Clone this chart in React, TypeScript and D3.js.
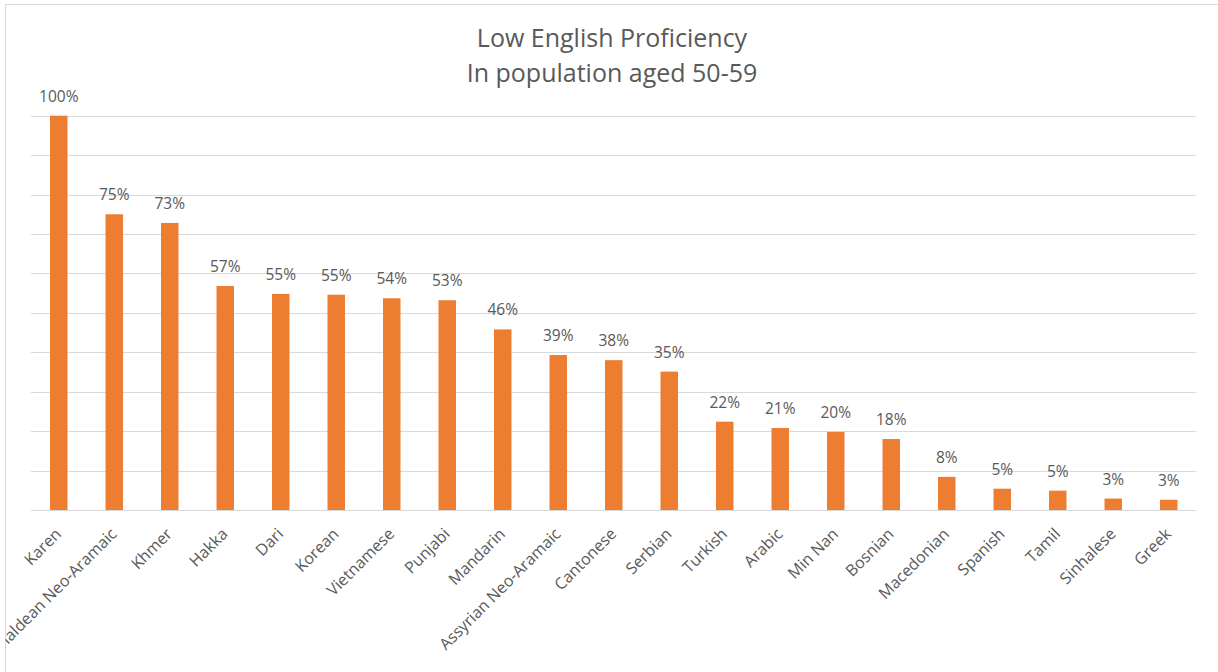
import React from "react";
import * as d3 from "d3";

const categories = [
  "Karen", "Chaldean Neo-Aramaic", "Khmer", "Hakka", "Dari", "Korean", "Vietnamese",
  "Punjabi", "Mandarin", "Assyrian Neo-Aramaic", "Cantonese", "Serbian", "Turkish",
  "Arabic", "Min Nan", "Bosnian", "Macedonian", "Spanish", "Tamil", "Sinhalese", "Greek",
];
const values = [
  1.0, 0.75, 0.728, 0.568, 0.548, 0.546, 0.537, 0.532, 0.458, 0.393, 0.38, 0.351,
  0.224, 0.208, 0.198, 0.18, 0.084, 0.054, 0.049, 0.029, 0.026,
];
const gridTicks = [0, 0.1, 0.2, 0.3, 0.4, 0.5, 0.6, 0.7, 0.8, 0.9, 1.0];
const titleLines = ["Low English Proficiency", "In population aged 50-59"];

const W = 1218;
const H = 672;
const FONT = "'Open Sans', sans-serif";
const TEXT = "#595959";
const GRID = "#d9d9d9";
const BAR = "#ED7D31";

export default function App() {
  const x = d3
    .scaleBand<string>()
    .domain(categories)
    .range([31, 1196.5])
    .paddingInner(0.685)
    .paddingOuter(0.3425);
  const y = d3.scaleLinear().domain([0, 1]).range([510, 115.7]);
  const fmt = d3.format(".0%");

  return (
    <svg
      width={W}
      height={H}
      style={{ position: "absolute", left: 0, top: 0, background: "#fff" }}
      fontFamily={FONT}
    >
      <defs>
        <clipPath id="clip">
          <rect x={5.5} y={4.5} width={W} height={H} />
        </clipPath>
      </defs>
      <rect x={0} y={0} width={W} height={H} fill="#fff" />
      <rect x={5.5} y={4.5} width={W + 20} height={H + 20} fill="#fff" stroke={GRID} strokeWidth={1} />
      <g clipPath="url(#clip)">
        {titleLines.map((t, i) => (
          <text key={t} x={612} y={46.7 + i * 35} textAnchor="middle" fontSize={25} fill={TEXT}>
            {t}
          </text>
        ))}
        {gridTicks.map((t) => (
          <line
            key={t}
            x1={31}
            x2={1196.5}
            y1={Math.round(y(t)) + 0.5}
            y2={Math.round(y(t)) + 0.5}
            stroke={GRID}
            strokeWidth={1.2}
          />
        ))}
        {categories.map((c, i) => (
          <g key={c}>
            <rect
              x={x(c)!}
              y={y(values[i])}
              width={x.bandwidth()}
              height={y(0) - y(values[i])}
              fill={BAR}
            />
            <text
              x={x(c)! + x.bandwidth() / 2}
              y={y(values[i]) - 14}
              textAnchor="middle"
              fontSize={15.5}
              fill={TEXT}
            >
              {fmt(values[i])}
            </text>
            <text
              transform={`translate(${x(c)! + x.bandwidth() / 2 + 3.5},535) rotate(-45)`}
              textAnchor="end"
              fontSize={16}
              fill={TEXT}
            >
              {c}
            </text>
          </g>
        ))}
      </g>
    </svg>
  );
}
